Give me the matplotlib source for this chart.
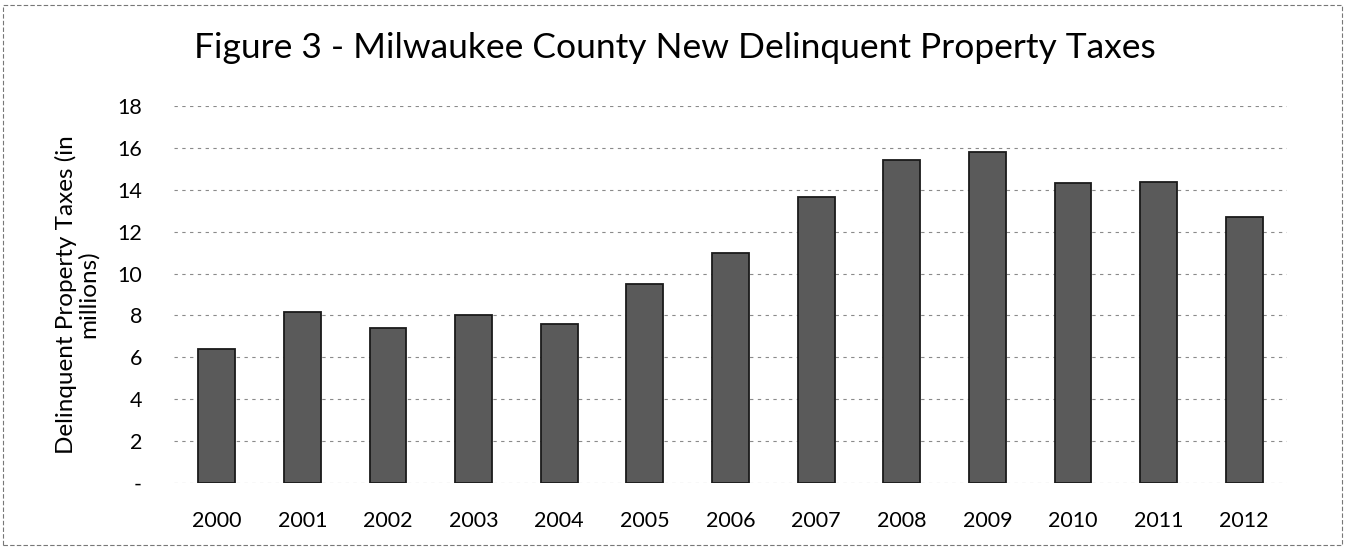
import matplotlib
matplotlib.use("Agg")
import matplotlib.pyplot as plt
from matplotlib.patches import Rectangle

years = ["2000", "2001", "2002", "2003", "2004", "2005", "2006",
         "2007", "2008", "2009", "2010", "2011", "2012"]
values = [6.4, 8.15, 7.4, 8.0, 7.6, 9.5, 11.0, 13.65, 15.4, 15.8, 14.3, 14.35, 12.7]
y_ticks = [0, 2, 4, 6, 8, 10, 12, 14, 16, 18]
y_tick_labels = ["-", "2", "4", "6", "8", "10", "12", "14", "16", "18"]
title = "Figure 3 - Milwaukee County New Delinquent Property Taxes"
y_label = "Delinquent Property Taxes (in\nmillions)"

plt.rcParams['font.family'] = ['Lato', 'DejaVu Sans']

W, H = 1349, 548
fig = plt.figure(figsize=(W / 100, H / 100), dpi=100)
ax = fig.add_axes([174 / W, 1 - 483 / H, (1287 - 174) / W, (483 - 106) / H])

x = list(range(len(years)))
ax.bar(x, values, width=0.43, color="#5a5a5a", edgecolor="#1a1a1a", linewidth=1.3, zorder=3)

ax.set_xlim(-0.5, len(years) - 0.5)
ax.set_ylim(0, 18)
ax.set_yticks(y_ticks)
ax.set_yticklabels(y_tick_labels, fontsize=15.5)
ax.set_xticks(x)
ax.set_xticklabels(years, fontsize=15.5)
ax.tick_params(axis="both", length=0)
ax.tick_params(axis="x", pad=20)
ax.tick_params(axis="y", pad=23)

ax.grid(axis="y", color="#8a8a8a", linestyle=(0, (3, 4)), linewidth=0.8, zorder=0)
for s in ax.spines.values():
    s.set_visible(False)

ax.set_ylabel(y_label, fontsize=17.5, labelpad=13, linespacing=1.05)
fig.text(0.5, 1 - 48 / H, title, ha="center", va="center", fontsize=25.5)

# outer frame
fig.patches.append(Rectangle((3 / W, 3 / H), 1 - 10 / W, 1 - 8 / H, transform=fig.transFigure,
                             fill=False, edgecolor="#777777", linewidth=0.8, linestyle=(0, (4, 2))))

fig.savefig("out.png", dpi=100)
